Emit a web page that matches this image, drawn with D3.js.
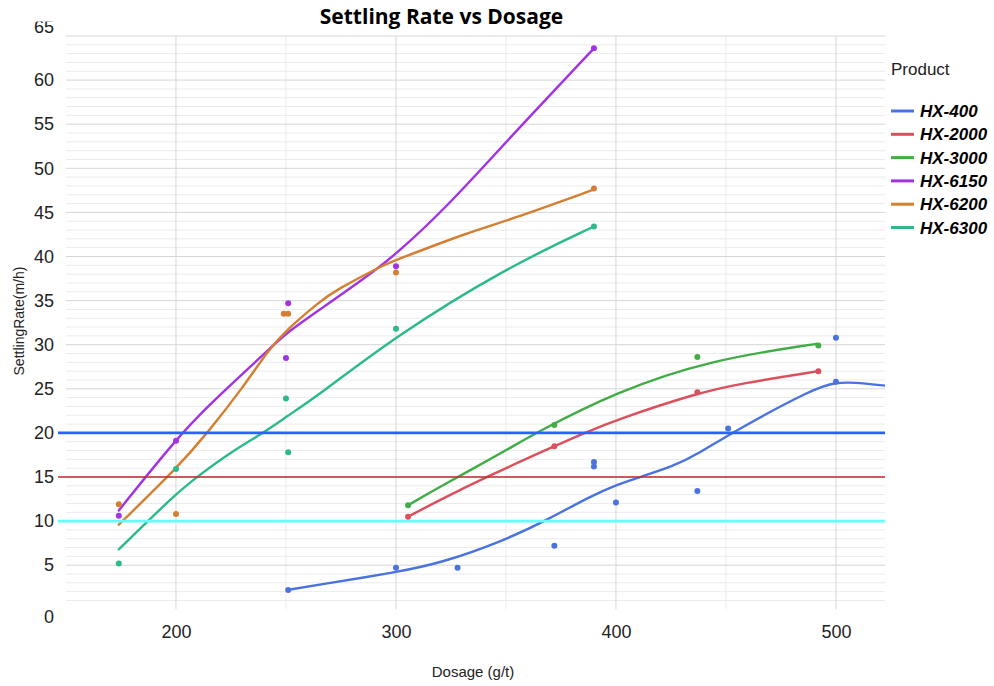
<!DOCTYPE html>
<html><head><meta charset="utf-8">
<script src="https://cdn.jsdelivr.net/npm/d3@7"></script>
<style>body{margin:0;background:#fff;} svg{display:block;}</style>
</head><body>
<svg id="chart" width="994" height="686"></svg>
<script>
// ---------- data ----------
const products = ["HX-400", "HX-2000", "HX-3000", "HX-6150", "HX-6200", "HX-6300"];
const seriesColors = ["#4a73e0", "#dc505d", "#40ad46", "#a233e3", "#d47f31", "#2cb98b"];

const dosage400 = [251, 300, 328, 372, 390, 390, 400, 437, 451, 500, 500];
const rate400   = [2.2, 4.7, 4.7, 7.2, 16.7, 16.2, 12.1, 13.4, 20.5, 30.8, 25.8];
const dosage2000 = [305.5, 372, 437, 492];
const rate2000   = [10.5, 18.5, 24.6, 27.0];
const dosage3000 = [305.5, 372, 437, 492];
const rate3000   = [11.8, 20.9, 28.6, 29.9];
const dosage6150 = [174, 200, 250, 251, 300, 390];
const rate6150   = [10.6, 19.1, 28.5, 34.7, 38.9, 63.6];
const dosage6200 = [174, 200, 249, 251, 300, 390];
const rate6200   = [11.9, 10.8, 33.5, 33.5, 38.2, 47.7];
const dosage6300 = [174, 200, 250, 251, 300, 390];
const rate6300   = [5.2, 15.9, 23.9, 17.8, 31.8, 43.4];

// trend curves: [dosage, rate]
const trend400 = [[250.8,2.2],[265.5,2.8],[300,4.2],[320,5.2],[350,7.86],[370,10.3],[388,12.77],[400,14.1],[411,15.0],[426,16.2],[438,17.7],[452,19.95],[491,25.2],[500.3,25.7],[507.7,25.75],[522.5,25.35]];
const trend2000 = [[305.5,10.5],[320,12.4],[341,15.0],[372,18.5],[386.7,20.1],[400.3,21.5],[436.7,24.5],[456.4,25.6],[492,27.0]];
const trend3000 = [[305.5,11.8],[320,13.9],[350,18.0],[364,20.07],[400.3,24.67],[442.7,28.27],[491.2,30.1]];
const trend6150 = [[174,11.2],[200,19.3],[215.5,23.3],[242,29.4],[250,31.3],[265.5,34.0],[285,37.4],[300,40.2],[325,46.1],[350,53.0],[390,63.6]];
const trend6200 = [[174,9.6],[200,15.9],[214,19.9],[230.6,25.2],[242,29.4],[250.3,31.7],[265.5,34.9],[272,36.1],[294,39.0],[300,39.6],[333.6,42.8],[350,44.0],[390,47.6]];
const trend6300 = [[174,6.8],[200,13.1],[209.4,15.0],[226,18.0],[239.7,20.0],[250,21.8],[265.5,24.4],[300,31.0],[350,38.7],[390,43.4]];

const refValues = [20, 15, 10];
const refColors = ["#2962ff", "#c62830", "#62fffa"];

const xTicks = [200, 300, 400, 500];
const xMinor = [250, 350, 450];
const yTicks = [0, 5, 10, 15, 20, 25, 30, 35, 40, 45, 50, 55, 60, 65];
const yMinor = d3.range(1, 65).filter(v => v % 5 !== 0);

const titleText = "Settling Rate vs Dosage";
const xTitle = "Dosage (g/t)";
const yTitle = "SettlingRate(m/h)";
const legendTitle = "Product";

// ---------- build ----------
const series = [
  {name: products[0], xs: dosage400, ys: rate400, trend: trend400},
  {name: products[1], xs: dosage2000, ys: rate2000, trend: trend2000},
  {name: products[2], xs: dosage3000, ys: rate3000, trend: trend3000},
  {name: products[3], xs: dosage6150, ys: rate6150, trend: trend6150},
  {name: products[4], xs: dosage6200, ys: rate6200, trend: trend6200},
  {name: products[5], xs: dosage6300, ys: rate6300, trend: trend6300}
].map((s, i) => ({...s, color: seriesColors[i]}));

const L = 66, R = 885, T = 36, B = 609.3;
const x = d3.scaleLinear().domain([150, 522.3]).range([L, R]);
const y = d3.scaleLinear().domain([0, 65]).range([B, T]);

const svg = d3.select("#chart");
const defs = svg.append("defs");
defs.append("clipPath").attr("id", "plotclip").append("rect")
  .attr("x", L).attr("y", T - 5).attr("width", R - L).attr("height", B - T + 10);
defs.append("clipPath").attr("id", "ylabclip").append("rect")
  .attr("x", 0).attr("y", 21.5).attr("width", 64).attr("height", 588);
defs.append("clipPath").attr("id", "zeroclip").append("rect")
  .attr("x", 0).attr("y", 610).attr("width", 64).attr("height", 40);

// grid
const grid = svg.append("g");
grid.selectAll("line.hmin").data(yMinor).join("line")
  .attr("x1", L).attr("x2", R).attr("y1", d => y(d)).attr("y2", d => y(d))
  .attr("stroke", "#ebebeb").attr("stroke-width", 1);
grid.selectAll("line.vmin").data(xMinor).join("line")
  .attr("x1", d => x(d)).attr("x2", d => x(d)).attr("y1", T).attr("y2", B)
  .attr("stroke", "#ebebeb").attr("stroke-width", 1);
grid.selectAll("line.hmaj").data(yTicks.filter(v => v > 0)).join("line")
  .attr("x1", L).attr("x2", R).attr("y1", d => y(d)).attr("y2", d => y(d))
  .attr("stroke", "#d6d6d6").attr("stroke-width", 1);
grid.selectAll("line.vmaj").data(xTicks).join("line")
  .attr("x1", d => x(d)).attr("x2", d => x(d)).attr("y1", T).attr("y2", B)
  .attr("stroke", "#d6d6d6").attr("stroke-width", 1);

// axes (y labels clipped like the reference: 65 and 0 cut at the top)
function styleAxis(g) {
  g.select(".domain").remove();
  g.selectAll("text").attr("font-family", "Arial, 'Liberation Sans', sans-serif")
    .attr("font-size", 18).attr("fill", "#222");
}
const yAxisMain = svg.append("g").attr("clip-path", "url(#ylabclip)")
  .append("g").attr("transform", `translate(${L},0)`)
  .call(d3.axisLeft(y).tickValues(yTicks.filter(v => v > 0)).tickSize(0).tickPadding(12).tickFormat(d3.format("d")))
  .call(styleAxis);
yAxisMain.selectAll(".tick").filter(d => d === 65).select("text").attr("dy", "-0.18em");
const yAxisZero = svg.append("g").attr("clip-path", "url(#zeroclip)")
  .append("g").attr("transform", `translate(${L},0)`)
  .call(d3.axisLeft(y).tickValues([0]).tickSize(0).tickPadding(12).tickFormat(d3.format("d")))
  .call(styleAxis);
yAxisZero.selectAll("text").attr("dy", "0.73em");

svg.append("g").attr("transform", `translate(0,${B})`)
  .call(d3.axisBottom(x).tickValues(xTicks).tickSize(0).tickPadding(16).tickFormat(d3.format("d")))
  .call(styleAxis);

// trend curves
const line = d3.line().x(d => x(d[0])).y(d => y(d[1])).curve(d3.curveBasis);
const curves = svg.append("g").attr("clip-path", "url(#plotclip)");
curves.selectAll("path").data(series).join("path")
  .attr("d", d => line(d.trend))
  .attr("fill", "none").attr("stroke", d => d.color).attr("stroke-width", 2.4)
  .attr("stroke-linecap", "round");

// reference lines
svg.append("g").selectAll("line").data(refValues).join("line")
  .attr("x1", 58).attr("x2", R).attr("y1", d => y(d)).attr("y2", d => y(d))
  .attr("stroke", (d, i) => refColors[i]).attr("stroke-width", (d, i) => i === 1 ? 1.4 : 2.6);

// points
const pts = svg.append("g");
series.forEach(s => {
  pts.append("g").selectAll("circle").data(s.xs.map((v, i) => [v, s.ys[i]])).join("circle")
    .attr("cx", d => x(d[0])).attr("cy", d => y(d[1])).attr("r", 3).attr("fill", s.color);
});

// title
svg.append("text").attr("x", 441.5).attr("y", 24).attr("text-anchor", "middle")
  .attr("font-family", "'Open Sans', sans-serif").attr("font-weight", 700)
  .attr("font-size", 21).attr("fill", "#000").text(titleText);

// axis titles
svg.append("text").attr("x", 473).attr("y", 677).attr("text-anchor", "middle")
  .attr("font-family", "Arial, 'Liberation Sans', sans-serif").attr("font-size", 15)
  .attr("fill", "#222").text(xTitle);
svg.append("text").attr("transform", "translate(24,321) rotate(-90)").attr("text-anchor", "middle")
  .attr("font-family", "Arial, 'Liberation Sans', sans-serif").attr("font-size", 14)
  .attr("fill", "#222").text(yTitle);

// legend
const lg = svg.append("g");
lg.append("text").attr("x", 891).attr("y", 75).attr("font-family", "Arial, 'Liberation Sans', sans-serif")
  .attr("font-size", 17).attr("fill", "#222").text(legendTitle);
const items = lg.selectAll("g.item").data(series).join("g").attr("class", "item")
  .attr("transform", (d, i) => `translate(891,${111 + i * 23.3})`);
items.append("line").attr("x1", 0).attr("x2", 23).attr("y1", 0).attr("y2", 0)
  .attr("stroke", d => d.color).attr("stroke-width", 3);
items.append("text").attr("x", 29).attr("y", 6).attr("font-family", "Arial, 'Liberation Sans', sans-serif")
  .attr("font-size", 17).attr("font-weight", 700).attr("font-style", "italic").attr("fill", "#000")
  .text(d => d.name);
</script>
</body></html>
